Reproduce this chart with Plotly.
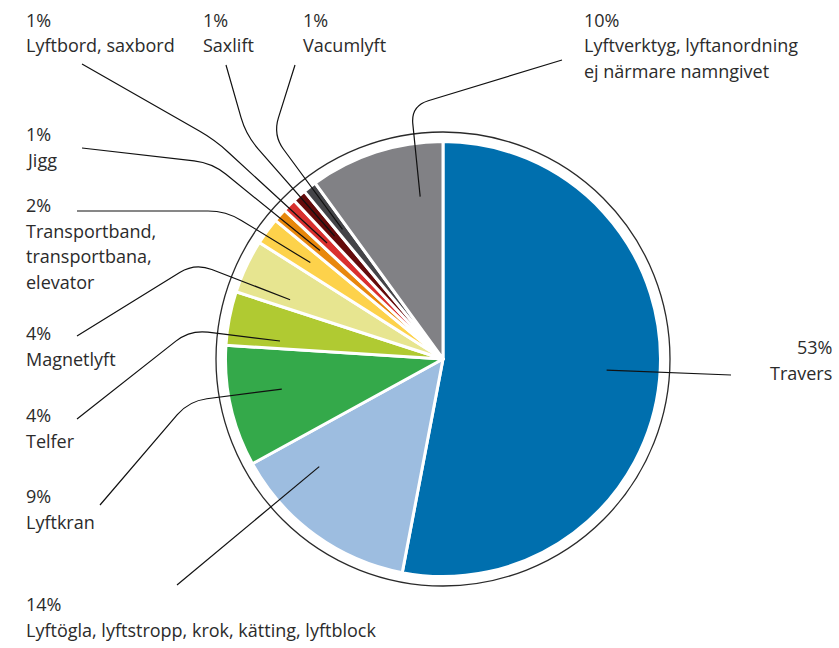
import math
import plotly.graph_objects as go

# Shares of lifting-equipment categories (percent)
categories = [
    "Travers",
    "Lyftögla, lyftstropp, krok, kätting, lyftblock",
    "Lyftkran",
    "Telfer",
    "Magnetlyft",
    "Transportband, transportbana, elevator",
    "Jigg",
    "Lyftbord, saxbord",
    "Saxlift",
    "Vacumlyft",
    "Lyftverktyg, lyftanordning ej närmare namngivet",
]
shares = [53, 14, 9, 4, 4, 2, 1, 1, 1, 1, 10]

# Label text as it is broken into lines
label_lines = [
    ["Travers"],
    ["Lyftögla, lyftstropp, krok, kätting, lyftblock"],
    ["Lyftkran"],
    ["Telfer"],
    ["Magnetlyft"],
    ["Transportband,", "transportbana,", "elevator"],
    ["Jigg"],
    ["Lyftbord, saxbord"],
    ["Saxlift"],
    ["Vacumlyft"],
    ["Lyftverktyg, lyftanordning", "ej närmare namngivet"],
]

colors = [
    "#006fae", "#9dbde0", "#34a94a", "#b0ca32", "#e7e590", "#fdd24b",
    "#e8870c", "#d9302e", "#640b0b", "#444448", "#818185",
]

W, H = 839, 648
CX, CY, R = 443, 359, 217.5      # pie centre and radius (px)
RING_R = 227                      # thin outer ring
TIP_R = 164                       # where leader lines end inside slices
FS = 18
LINE_H = 25.5

# label placement: x, first baseline, anchor, leader start, leader corner, angle nudge
label_layout = [
    (834, 355, "right", (731, 375), None, -1.5),
    (24, 612, "left", (177, 585), None, 13),
    (24, 504, "left", (100, 505), (189, 401), 2),
    (24, 423, "left", (77, 419), (190, 330), -4.5),
    (24, 341, "left", (77, 336), (195, 263), -4),
    (24, 213, "left", (77, 211), (226, 211), 0),
    (24, 142, "left", (82, 148), (212, 163), 0),
    (24, 28, "left", (82, 64), (215, 140), 0),
    (201, 28, "left", (226, 65), (246, 135), 0),
    (301, 28, "left", (295, 65), (273, 135), 0),
    (582, 28, "left", (562, 60), (411, 106), 10),
]


def fx(x):
    return x / W


def fy(y):
    return 1 - y / H


fig = go.Figure(
    go.Pie(
        labels=categories,
        values=shares,
        sort=False,
        direction="clockwise",
        rotation=0,
        marker=dict(colors=colors, line=dict(color="white", width=3)),
        textinfo="none",
        hoverinfo="label+percent",
        showlegend=False,
        domain=dict(
            x=[(CX - R) / W, (CX + R) / W],
            y=[(H - CY - R) / H, (H - CY + R) / H],
        ),
    )
)

shapes = [
    dict(
        type="circle", xref="paper", yref="paper",
        x0=fx(CX - RING_R), x1=fx(CX + RING_R),
        y0=fy(CY + RING_R), y1=fy(CY - RING_R),
        line=dict(color="#2a2a2a", width=1.3),
    )
]
annotations = []

total = sum(shares)
cum = 0
for i, v in enumerate(shares):
    mid = (cum + v / 2) / total * 360
    cum += v
    x_lab, base, anchor, start, corner, nudge = label_layout[i]
    ang = math.radians(mid + nudge)
    tip = (CX + TIP_R * math.sin(ang), CY - TIP_R * math.cos(ang))

    if corner is None:
        path = f"M {fx(start[0])},{fy(start[1])} L {fx(tip[0])},{fy(tip[1])}"
    else:
        d = 18

        def toward(p, q, dist):
            dx, dy = q[0] - p[0], q[1] - p[1]
            n = math.hypot(dx, dy)
            return (p[0] + dx / n * dist, p[1] + dy / n * dist)

        a = toward(corner, start, d)
        b = toward(corner, tip, d)
        path = (
            f"M {fx(start[0])},{fy(start[1])} L {fx(a[0])},{fy(a[1])} "
            f"Q {fx(corner[0])},{fy(corner[1])} {fx(b[0])},{fy(b[1])} "
            f"L {fx(tip[0])},{fy(tip[1])}"
        )
    shapes.append(dict(type="path", xref="paper", yref="paper", path=path,
                       line=dict(color="#111111", width=1.2)))

    lines = [f"{v}%"] + label_lines[i]
    for k, txt in enumerate(lines):
        annotations.append(dict(
            text=txt, showarrow=False, xref="paper", yref="paper",
            x=fx(x_lab), y=fy(base + k * LINE_H),
            xanchor=anchor, yanchor="bottom", yshift=-6,
            align=anchor,
            font=dict(family="Open Sans", size=FS, color="#2b2b2b"),
        ))

fig.update_layout(
    width=W, height=H,
    margin=dict(l=0, r=0, t=0, b=0),
    paper_bgcolor="white", plot_bgcolor="white",
    shapes=shapes, annotations=annotations,
)

fig.write_html("out.html")
